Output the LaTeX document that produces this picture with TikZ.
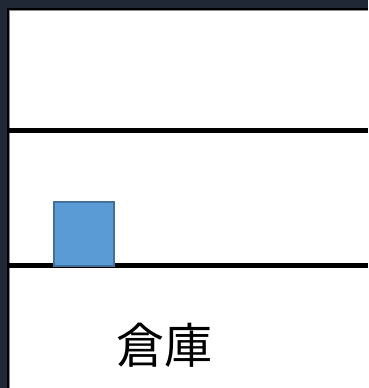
\documentclass[tikz,border=0pt]{standalone}
\usepackage{fontspec}
\newfontfamily\cjk{Noto Sans CJK JP}
\definecolor{frame}{HTML}{202735}
\definecolor{boxfill}{HTML}{5B9BD5}
\definecolor{boxline}{HTML}{41719C}
\definecolor{edgegray}{HTML}{8A8A8A}
\tikzset{
  shelf/.style={line width=5pt, black},
  crate/.style={draw=boxline, fill=boxfill, line width=1.5pt, minimum width=60pt, minimum height=64pt, inner sep=0pt, outer sep=0pt},
  label/.style={font=\cjk\fontsize{48pt}{48pt}\selectfont, inner sep=0pt}
}
\begin{document}
\begin{tikzpicture}[x=1pt,y=-1pt]
  \useasboundingbox (0,0) rectangle (368,388);
  \fill[frame] (0,0) rectangle (368,388);
  \fill[white] (9,10) rectangle (368,388);
  % frame edges
  \draw[black, line width=2pt] (8,388) -- (8,9) -- (368,9);
  \draw[edgegray, line width=0.8pt] (9.6,388) -- (9.6,10.6) -- (368,10.6);
  % shelves
  \coordinate (s1l) at (9,130);
  \coordinate (s1r) at (368,130);
  \coordinate (s2l) at (9,265.5);
  \coordinate (s2r) at (368,265.5);
  \draw[shelf] (s1l) -- (s1r);
  \draw[shelf] (s2l) -- (s2r);
  \node[crate] (box) at (84,234) {};
  \node[label] (wh) at (164.5,345) {倉庫};
\end{tikzpicture}
\end{document}
